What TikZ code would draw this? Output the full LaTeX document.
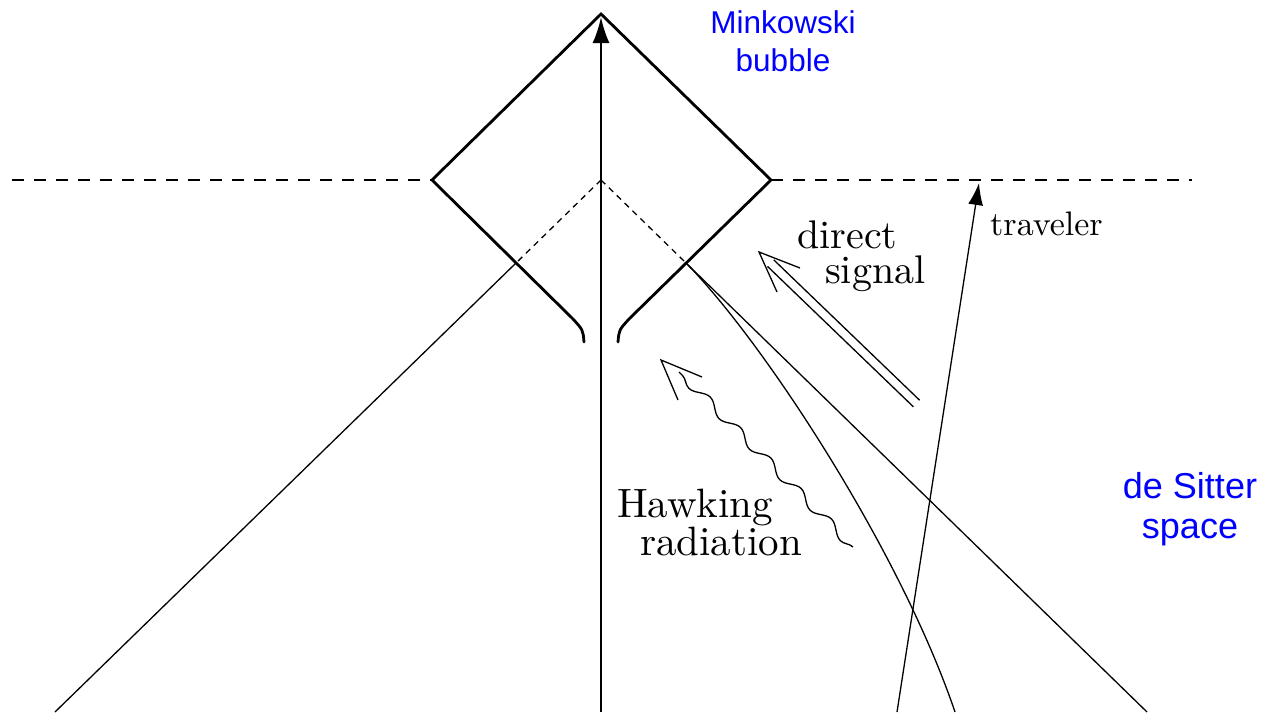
\documentclass[tikz,border=0pt]{standalone}
\usepackage{fontspec}
\newfontfamily\labelsans{Liberation Sans}
\usetikzlibrary{arrows.meta,decorations.pathmorphing}
\newcommand{\mylmtext}[2]{\scalebox{#1}{\fontsize{10}{12}\selectfont #2}}
\begin{document}
\begin{tikzpicture}[x=1pt,y=-1pt,
  bubbleedge/.style={line width=2.8pt, line join=miter, line cap=round},
  worldline/.style={line width=1.3pt},
  horizon/.style={line width=2.2pt, dash pattern=on 12pt off 10pt},
  lightcone/.style={line width=1.3pt, dash pattern=on 6pt off 5pt},
  axisarrow/.style={line width=2.2pt, -{Latex[length=26pt,width=17pt]}},
  lmlabel/.style={anchor=base west, inner sep=0pt},
  bluelabel/.style={anchor=base, inner sep=0pt, text=blue}
]
\path[use as bounding box] (0,0) rectangle (1266,715);

% key points
\coordinate (apex) at (601,14);
\coordinate (bl) at (432,180);
\coordinate (br) at (771,180);
\coordinate (lk) at (573,319);
\coordinate (lend) at (584,342);
\coordinate (rk) at (629,319);
\coordinate (rend) at (618,342);
\coordinate (origin) at (601,180);
\coordinate (lx) at (515.5,263.5);
\coordinate (rx) at (686,263);
\coordinate (lfoot) at (55,712);
\coordinate (rfoot) at (1147,712);
\coordinate (cfoot) at (955,712);
\coordinate (axisbot) at (601,712);
\coordinate (axistop) at (601,17);
\coordinate (hl) at (12,180);
\coordinate (hr) at (1192,180);
\coordinate (travstart) at (897,712);
\coordinate (travend) at (979,183);

% horizon
\draw[horizon] (hl) -- (bl);
\draw[horizon] (br) -- (hr);

% bubble
\draw[bubbleedge] (lend) .. controls (583,330) .. (lk) -- (bl) -- (apex) -- (br) -- (rk) .. controls (619,330) .. (rend);

% light cone from origin
\draw[lightcone] (origin) -- (lx);
\draw[worldline] (lx) -- (lfoot);
\draw[lightcone] (origin) -- (rx);
\draw[worldline] (rx) -- (rfoot);
\draw[worldline] (rx) .. controls (763,341) and (900,550) .. (cfoot);

% time axis
\draw[axisarrow] (axisbot) -- (axistop);

% traveler
\draw[worldline, -{Latex[length=22pt,width=15pt]}] (travstart) -- (travend);

% direct signal (double arrow)
\coordinate (dtip) at (759,252);
\coordinate (da1) at (919.6,400.2);
\coordinate (da2) at (773.7,259.8);
\coordinate (db1) at (913.4,406.8);
\coordinate (db2) at (767.5,266.4);
\coordinate (darm1) at (800,268);
\coordinate (darm2) at (777,292);
\draw[worldline] (da1) -- (da2);
\draw[worldline] (db1) -- (db2);
\draw[worldline, line join=miter] (darm1) -- (dtip) -- (darm2);

% Hawking radiation (wavy arrow)
\coordinate (hstart) at (853,547);
\coordinate (hend) at (679,372);
\coordinate (htip) at (661,360);
\coordinate (harm1) at (702,377);
\coordinate (harm2) at (678,400);
\draw[worldline, decorate, decoration={snake, amplitude=4.5pt, segment length=43pt, post length=4pt}] (hstart) -- (hend);
\draw[worldline, line join=miter] (harm1) -- (htip) -- (harm2);

% labels
\node[lmlabel] (direct) at (797,248) {\mylmtext{4.0}{direct}};
\node[lmlabel] (signal) at (825,283) {\mylmtext{4.0}{signal}};
\node[lmlabel] (hawking) at (617,517) {\mylmtext{4.1}{Hawking}};
\node[lmlabel] (radiation) at (640,555) {\mylmtext{4.1}{radiation}};
\node[lmlabel] (traveler) at (990,235) {\mylmtext{3.4}{traveler}};
\node[bluelabel, font=\labelsans\fontsize{31.5}{36}\selectfont] (mink) at (783,33) {Minkowski};
\node[bluelabel, font=\labelsans\fontsize{31.5}{36}\selectfont] (bubble) at (783,71) {bubble};
\node[bluelabel, font=\labelsans\fontsize{36}{42}\selectfont] (desitter) at (1190,498) {de Sitter};
\node[bluelabel, font=\labelsans\fontsize{36}{42}\selectfont] (space) at (1190,538) {space};
\end{tikzpicture}
\end{document}
